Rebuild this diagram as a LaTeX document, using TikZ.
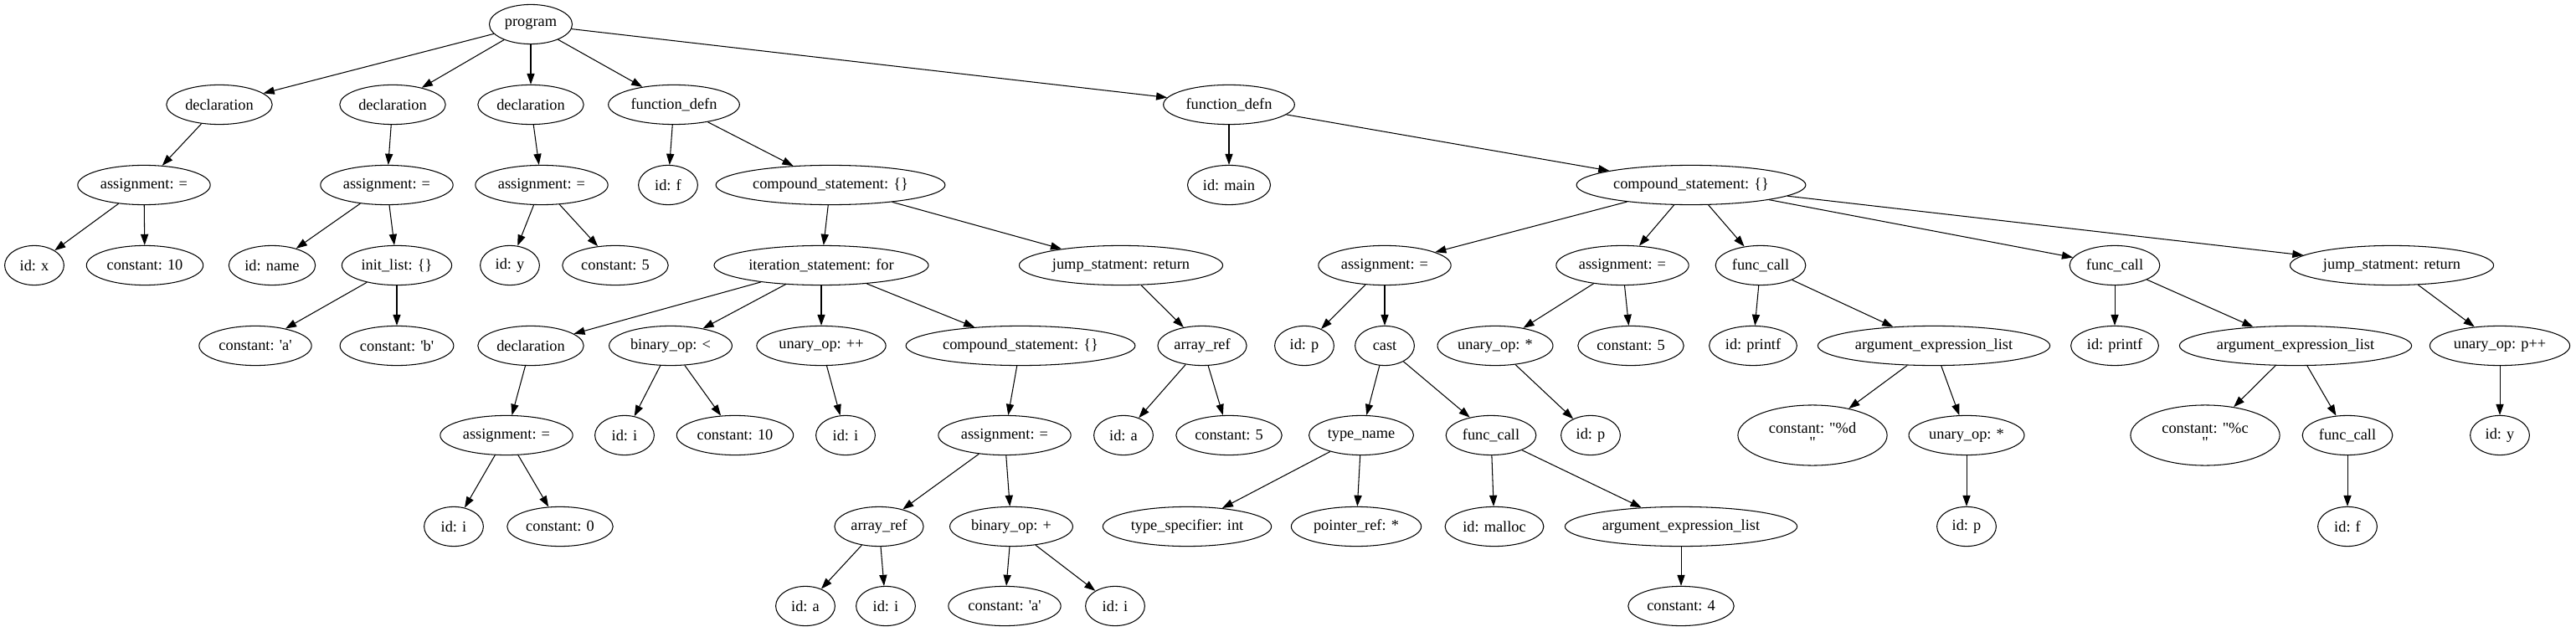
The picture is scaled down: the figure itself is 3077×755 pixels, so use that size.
\documentclass[tikz,border=0pt]{standalone}
\usepackage{fontspec}
\setmainfont{Liberation Serif}
\usetikzlibrary{arrows.meta,shapes.geometric}

\begin{document}
\begin{tikzpicture}[x=0.763pt,y=-0.763pt]
\tikzstyle{every node}+=[draw, ellipse, inner xsep=3pt, inner ysep=2pt, minimum width=54pt, minimum height=36pt, line width=0.8pt, font=\fontsize{14}{13}\selectfont]
\tikzstyle{tall}=[align=center, minimum width=136pt, minimum height=55pt]
\tikzstyle{edge}=[line width=0.8pt, -{Triangle[length=10pt,width=7pt]}]
\useasboundingbox (0,0) rectangle (3077,755);
%\node at (0,0) {test};
\node (program) at (634,29) {program};
\node (decl1) at (262,125) {declaration};
\node (decl2) at (469,125) {declaration};
\node (decl3) at (634,125) {declaration};
\node (fdefn1) at (805,125) {function\_defn};
\node (fdefn2) at (1468,125) {function\_defn};
\node (asg1) at (172,221) {assignment: =};
\node (asg2) at (462,221) {assignment: =};
\node (asg3) at (647,221) {assignment: =};
\node (idf) at (798,221) {id: f};
\node (body1) at (992,221) {compound\_statement: \{\}};
\node (idmain) at (1468,221) {id: main};
\node (body2) at (2020,221) {compound\_statement: \{\}};
\node (idx) at (41,317) {id: x};
\node (const10) at (173,317) {constant: 10};
\node (idname) at (325,317) {id: name};
\node (initlist) at (474,317) {init\_list: \{\}};
\node (idy) at (609,317) {id: y};
\node (const5) at (735,317) {constant: 5};
\node (forloop) at (981,317) {iteration\_statement: for};
\node (ret1) at (1339,317) {jump\_statment: return};
\node (asg4) at (1654,317) {assignment: =};
\node (asg5) at (1938,317) {assignment: =};
\node (call1) at (2103,317) {func\_call};
\node (call2) at (2526,317) {func\_call};
\node (ret2) at (2857,317) {jump\_statment: return};
\node (chara) at (305,413) {constant: \textquotesingle a\textquotesingle};
\node (charb) at (474,413) {constant: \textquotesingle b\textquotesingle};
\node (decl4) at (634,413) {declaration};
\node (less) at (801,413) {binary\_op: <};
\node (incr) at (981,413) {unary\_op: ++};
\node (body3) at (1219,413) {compound\_statement: \{\}};
\node (aref1) at (1436,413) {array\_ref};
\node (idp1) at (1558,413) {id: p};
\node (cast) at (1654,413) {cast};
\node (deref1) at (1786,413) {unary\_op: *};
\node (const5b) at (1948,413) {constant: 5};
\node (printf1) at (2094,413) {id: printf};
\node (args1) at (2310,413) {argument\_expression\_list};
\node (printf2) at (2526,413) {id: printf};
\node (args2) at (2742,413) {argument\_expression\_list};
\node (postinc) at (2986,413) {unary\_op: p++};
\node (asg6) at (605,520) {assignment: =};
\node (idi1) at (746,520) {id: i};
\node (const10b) at (878,520) {constant: 10};
\node (idi2) at (1010,520) {id: i};
\node (asg7) at (1200,520) {assignment: =};
\node (ida1) at (1342,520) {id: a};
\node (const5c) at (1468,520) {constant: 5};
\node (tname) at (1626,520) {type\_name};
\node (call3) at (1781,520) {func\_call};
\node (idp2) at (1900,520) {id: p};
\node[tall] (fmtd) at (2165,520) {constant: \textquotedbl\%d\\\textquotedbl};
\node (deref2) at (2349,520) {unary\_op: *};
\node[tall] (fmtc) at (2634,520) {constant: \textquotedbl\%c\\\textquotedbl};
\node (call4) at (2804,520) {func\_call};
\node (idy2) at (2986,520) {id: y};
\node (idi3) at (542,629) {id: i};
\node (const0) at (669,629) {constant: 0};
\node (aref2) at (1050,629) {array\_ref};
\node (plus) at (1208,629) {binary\_op: +};
\node (tspec) at (1418,629) {type\_specifier: int};
\node (pref) at (1620,629) {pointer\_ref: *};
\node (malloc) at (1785,629) {id: malloc};
\node (args3) at (2008,629) {argument\_expression\_list};
\node (idp3) at (2349,629) {id: p};
\node (idf2) at (2804,629) {id: f};
\node (ida2) at (962,724) {id: a};
\node (idi4) at (1058,724) {id: i};
\node (chara2) at (1200,724) {constant: \textquotesingle a\textquotesingle};
\node (idi5) at (1332,724) {id: i};
\node (const4) at (2008,724) {constant: 4};
\draw[edge] (program) -- (decl1);
\draw[edge] (program) -- (decl2);
\draw[edge] (program) -- (decl3);
\draw[edge] (program) -- (fdefn1);
\draw[edge] (program) -- (fdefn2);
\draw[edge] (decl1) -- (asg1);
\draw[edge] (asg1) -- (idx);
\draw[edge] (asg1) -- (const10);
\draw[edge] (decl2) -- (asg2);
\draw[edge] (asg2) -- (idname);
\draw[edge] (asg2) -- (initlist);
\draw[edge] (initlist) -- (chara);
\draw[edge] (initlist) -- (charb);
\draw[edge] (decl3) -- (asg3);
\draw[edge] (asg3) -- (idy);
\draw[edge] (asg3) -- (const5);
\draw[edge] (fdefn1) -- (idf);
\draw[edge] (fdefn1) -- (body1);
\draw[edge] (body1) -- (forloop);
\draw[edge] (body1) -- (ret1);
\draw[edge] (forloop) -- (decl4);
\draw[edge] (forloop) -- (less);
\draw[edge] (forloop) -- (incr);
\draw[edge] (forloop) -- (body3);
\draw[edge] (decl4) -- (asg6);
\draw[edge] (asg6) -- (idi3);
\draw[edge] (asg6) -- (const0);
\draw[edge] (less) -- (idi1);
\draw[edge] (less) -- (const10b);
\draw[edge] (incr) -- (idi2);
\draw[edge] (body3) -- (asg7);
\draw[edge] (asg7) -- (aref2);
\draw[edge] (asg7) -- (plus);
\draw[edge] (aref2) -- (ida2);
\draw[edge] (aref2) -- (idi4);
\draw[edge] (plus) -- (chara2);
\draw[edge] (plus) -- (idi5);
\draw[edge] (ret1) -- (aref1);
\draw[edge] (aref1) -- (ida1);
\draw[edge] (aref1) -- (const5c);
\draw[edge] (fdefn2) -- (idmain);
\draw[edge] (fdefn2) -- (body2);
\draw[edge] (body2) -- (asg4);
\draw[edge] (body2) -- (asg5);
\draw[edge] (body2) -- (call1);
\draw[edge] (body2) -- (call2);
\draw[edge] (body2) -- (ret2);
\draw[edge] (asg4) -- (idp1);
\draw[edge] (asg4) -- (cast);
\draw[edge] (cast) -- (tname);
\draw[edge] (cast) -- (call3);
\draw[edge] (tname) -- (tspec);
\draw[edge] (tname) -- (pref);
\draw[edge] (call3) -- (malloc);
\draw[edge] (call3) -- (args3);
\draw[edge] (args3) -- (const4);
\draw[edge] (asg5) -- (deref1);
\draw[edge] (asg5) -- (const5b);
\draw[edge] (deref1) -- (idp2);
\draw[edge] (call1) -- (printf1);
\draw[edge] (call1) -- (args1);
\draw[edge] (args1) -- (fmtd);
\draw[edge] (args1) -- (deref2);
\draw[edge] (deref2) -- (idp3);
\draw[edge] (call2) -- (printf2);
\draw[edge] (call2) -- (args2);
\draw[edge] (args2) -- (fmtc);
\draw[edge] (args2) -- (call4);
\draw[edge] (call4) -- (idf2);
\draw[edge] (ret2) -- (postinc);
\draw[edge] (postinc) -- (idy2);
\end{tikzpicture}
\end{document}
